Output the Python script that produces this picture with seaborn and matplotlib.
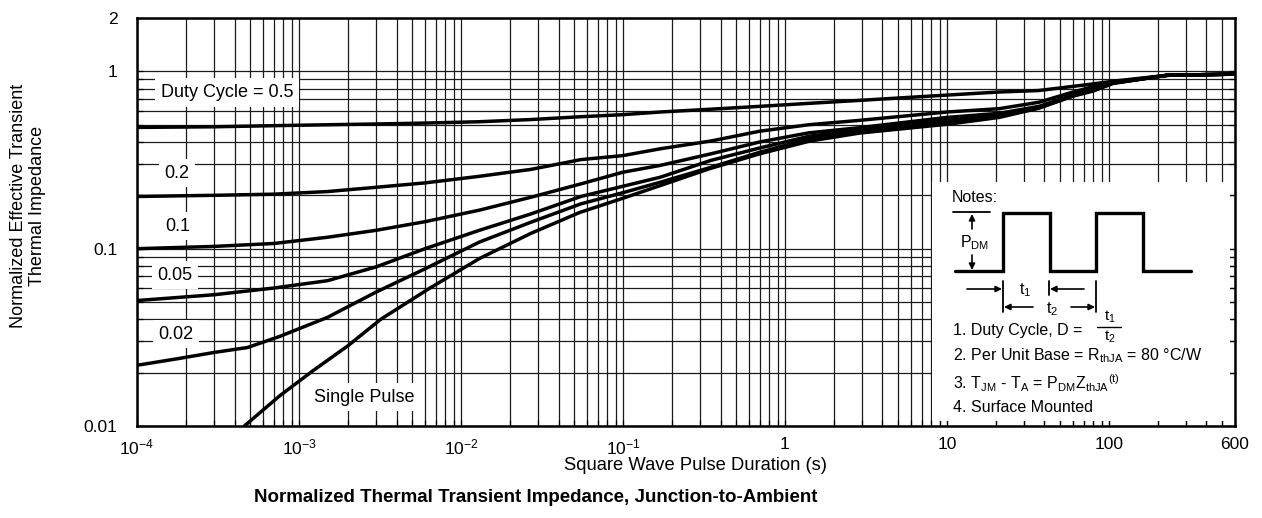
import matplotlib
matplotlib.use("Agg")
import matplotlib.pyplot as plt
import seaborn as sns
import pandas as pd
from matplotlib.ticker import FixedLocator, LogLocator, NullFormatter
from matplotlib.patches import Rectangle

# --- DATA ---
t_common = [1e-4, 3e-4, 7e-4, 1.5e-3, 3e-3, 6e-3, 1.3e-2, 2.7e-2, 5.5e-2, 0.1, 0.17,
            0.35, 0.7, 1.4, 2.8, 10, 21, 37, 60, 80, 106, 228, 600]
z_d50 = [0.483, 0.487, 0.494, 0.50, 0.505, 0.511, 0.52, 0.535, 0.555, 0.57, 0.59,
         0.612, 0.635, 0.66, 0.685, 0.735, 0.765, 0.78, 0.823, 0.85, 0.88, 0.95, 0.965]
z_d20 = [0.197, 0.200, 0.203, 0.21, 0.222, 0.235, 0.256, 0.28, 0.318, 0.335, 0.366,
         0.405, 0.46, 0.50, 0.528, 0.59, 0.616, 0.67, 0.765, 0.82, 0.87, 0.95, 0.965]
z_d10 = [0.100, 0.103, 0.107, 0.116, 0.127, 0.142, 0.165, 0.195, 0.232, 0.27, 0.295,
         0.343, 0.40, 0.45, 0.48, 0.55, 0.58, 0.635, 0.735, 0.79, 0.86, 0.95, 0.965]
z_d05 = [0.051, 0.055, 0.060, 0.066, 0.079, 0.100, 0.127, 0.157, 0.197, 0.225, 0.253,
         0.315, 0.37, 0.43, 0.468, 0.535, 0.57, 0.63, 0.73, 0.785, 0.86, 0.95, 0.965]

t_d02 = [1e-4, 1.8e-4, 3e-4, 4.8e-4, 6e-4, 7.6e-4, 1.5e-3, 3e-3, 6e-3, 1.3e-2, 2.7e-2,
         5.5e-2, 0.1, 0.17, 0.35, 0.7, 1.4, 2.8, 10, 21, 37, 60, 80, 106, 228, 600]
z_d02 = [0.022, 0.024, 0.026, 0.0277, 0.0297, 0.032, 0.041, 0.057, 0.077, 0.109, 0.141,
         0.179, 0.207, 0.237, 0.288, 0.35, 0.415, 0.458, 0.52, 0.56, 0.625, 0.728, 0.78,
         0.86, 0.95, 0.965]

t_single = [4.6e-4, 7.6e-4, 1.22e-3, 2e-3, 3.2e-3, 6.4e-3, 1.3e-2, 2.7e-2, 5.4e-2, 0.106,
            0.17, 0.34, 0.7, 1.43, 2.9, 10.4, 21, 37, 60, 80, 106, 228, 600]
z_single = [0.0100, 0.0148, 0.0205, 0.0283, 0.040, 0.0598, 0.088, 0.122, 0.160, 0.196,
            0.227, 0.282, 0.343, 0.405, 0.449, 0.505, 0.55, 0.62, 0.725, 0.775, 0.855,
            0.95, 0.965]

x_ticks = [1e-4, 1e-3, 1e-2, 1e-1, 1, 10, 100, 600]
x_labels = [r"$10^{-4}$", r"$10^{-3}$", r"$10^{-2}$", r"$10^{-1}$", "1", "10", "100", "600"]
y_ticks = [0.01, 0.1, 1, 2]
y_labels = ["0.01", "0.1", "1", "2"]
y_minor = [0.02, 0.03, 0.04, 0.05, 0.06, 0.07, 0.08, 0.09,
           0.2, 0.3, 0.4, 0.5, 0.6, 0.7, 0.8, 0.9]

# curve labels: (text, t, z)
curve_labels = [("Duty Cycle = 0.5", 3.6e-4, 0.76), ("0.2", 1.77e-4, 0.266),
                ("0.1", 1.79e-4, 0.134), ("0.05", 1.72e-4, 0.0707),
                ("0.02", 1.74e-4, 0.0329), ("Single Pulse", 2.52e-3, 0.0145)]

# --- BUILD LONG TABLE ---
frames = []
for name, t, z in [("0.5", t_common, z_d50), ("0.2", t_common, z_d20),
                   ("0.1", t_common, z_d10), ("0.05", t_common, z_d05),
                   ("0.02", t_d02, z_d02), ("single", t_single, z_single)]:
    frames.append(pd.DataFrame({"t": t, "z": z, "curve": name}))
df = pd.concat(frames, ignore_index=True)

# --- STYLE ---
sns.set_style("white")
plt.rcParams["font.family"] = ["Liberation Sans", "DejaVu Sans"]
plt.rcParams["mathtext.fontset"] = "custom"
plt.rcParams["mathtext.rm"] = "Liberation Sans"
plt.rcParams["mathtext.it"] = "Liberation Sans:italic"
plt.rcParams["mathtext.bf"] = "Liberation Sans:bold"
plt.rcParams["text.color"] = "black"
plt.rcParams["axes.labelcolor"] = "black"
plt.rcParams["xtick.color"] = "black"
plt.rcParams["ytick.color"] = "black"

W, H = 1262, 518
fig = plt.figure(figsize=(W / 100, H / 100), dpi=100)
ax = fig.add_axes([137 / W, (H - 426) / H, 1098 / W, 408 / H])

palette = {c: "black" for c in df["curve"].unique()}
sns.lineplot(data=df, x="t", y="z", hue="curve", palette=palette, legend=False,
             estimator=None, sort=False, linewidth=2.5, ax=ax, zorder=3)

ax.set_xscale("log")
ax.set_yscale("log")
ax.set_xlim(1e-4, 600)
ax.set_ylim(0.01, 2)

ax.xaxis.set_major_locator(FixedLocator(x_ticks))
ax.set_xticklabels(x_labels)
ax.xaxis.set_minor_locator(LogLocator(base=10, subs=range(2, 10), numticks=30))
ax.xaxis.set_minor_formatter(NullFormatter())
ax.yaxis.set_major_locator(FixedLocator(y_ticks))
ax.set_yticklabels(y_labels)
ax.yaxis.set_minor_locator(FixedLocator(y_minor))
ax.yaxis.set_minor_formatter(NullFormatter())

ax.set_axisbelow(True)
ax.grid(which="both", color="#1a1a1a", linewidth=0.9)
ax.tick_params(which="both", direction="in", length=4, width=0.9, color="black",
               bottom=True, left=True, right=True, top=False)
ax.tick_params(axis="x", which="major", labelsize=12.5, pad=8)
ax.tick_params(axis="y", which="major", labelsize=12.5, pad=14)
for sp in ax.spines.values():
    sp.set_linewidth(1.8)
    sp.set_color("black")
ax.set_xlabel("")
ax.set_ylabel("")

for txt, tx, tz in curve_labels:
    ax.text(tx, tz, txt, ha="center", va="center", fontsize=13, zorder=4,
            bbox=dict(facecolor="white", edgecolor="none", pad=4))

# --- OVERLAY (pixel coordinates) for labels and notes box ---
ov = fig.add_axes([0, 0, 1, 1])
ov.set_xlim(0, W)
ov.set_ylim(H, 0)
ov.axis("off")
ov.patch.set_alpha(0)
ov.set_zorder(5)

ov.text(28, 206, "Normalized Effective Transient\nThermal Impedance", rotation=90,
        ha="center", va="center", fontsize=13, linespacing=1.1)
ov.text(696, 466, "Square Wave Pulse Duration (s)", ha="center", va="center", fontsize=13.2)
ov.text(536, 497, "Normalized Thermal Transient Impedance, Junction-to-Ambient",
        ha="center", va="center", fontsize=13.5, fontweight="bold")

# notes box
ov.add_patch(Rectangle((932, 182), 1230 - 932, 421 - 182, facecolor="white",
                       edgecolor="none"))
ov.text(952, 197, "Notes:", ha="left", va="center", fontsize=11.5)

# square wave
wave_x = [955, 1003, 1003, 1050, 1050, 1096, 1096, 1143, 1143, 1191]
wave_y = [271, 271, 213, 213, 271, 271, 213, 213, 271, 271]
ov.plot(wave_x, wave_y, color="black", linewidth=2.4, solid_joinstyle="miter")
ov.plot([953, 990], [212, 212], color="black", linewidth=1.3)

arrow = dict(arrowstyle="-|>", color="black", lw=1.2, mutation_scale=9,
             shrinkA=0, shrinkB=0)
ov.annotate("", xy=(972, 214), xytext=(972, 229), arrowprops=arrow)
ov.annotate("", xy=(972, 270), xytext=(972, 255), arrowprops=arrow)
ov.text(975, 243, r"P$_{\mathrm{DM}}$", ha="center", va="center", fontsize=11.5)

# t1 / t2 dimension marks
ov.plot([1003, 1003], [281, 312], color="black", linewidth=1.3)
ov.plot([1049, 1049], [281, 295], color="black", linewidth=1.3)
ov.plot([1096, 1096], [281, 312], color="black", linewidth=1.3)
ov.annotate("", xy=(1002, 289), xytext=(967, 289), arrowprops=arrow)
ov.annotate("", xy=(1050, 289), xytext=(1084, 289), arrowprops=arrow)
ov.annotate("", xy=(1004, 307), xytext=(1033, 307), arrowprops=arrow)
ov.annotate("", xy=(1095, 307), xytext=(1071, 307), arrowprops=arrow)
ov.text(1025, 290, r"t$_{\mathrm{1}}$", ha="center", va="center", fontsize=11.5)
ov.text(1052, 309, r"t$_{\mathrm{2}}$", ha="center", va="center", fontsize=11.5)

# notes text
ov.text(953, 331, "1. Duty Cycle, D =", ha="left", va="center", fontsize=11.5)
ov.text(1110, 317, r"t$_{\mathrm{1}}$", ha="center", va="center", fontsize=11)
ov.plot([1097, 1121], [327, 327], color="black", linewidth=1.0)
ov.text(1110, 337, r"t$_{\mathrm{2}}$", ha="center", va="center", fontsize=11)
ov.text(953, 356, r"2. Per Unit Base = R$_{\mathrm{thJA}}$ = 80 °C/W", ha="left",
        va="center", fontsize=11.5)
ov.text(953, 383, r"3. T$_{\mathrm{JM}}$ - T$_{\mathrm{A}}$ = P$_{\mathrm{DM}}$Z$_{\mathrm{thJA}}$$^{\mathrm{(t)}}$",
        ha="left", va="center", fontsize=11.5)
ov.text(953, 408, "4. Surface Mounted", ha="left", va="center", fontsize=11.5)

fig.savefig("out.png", dpi=100)
